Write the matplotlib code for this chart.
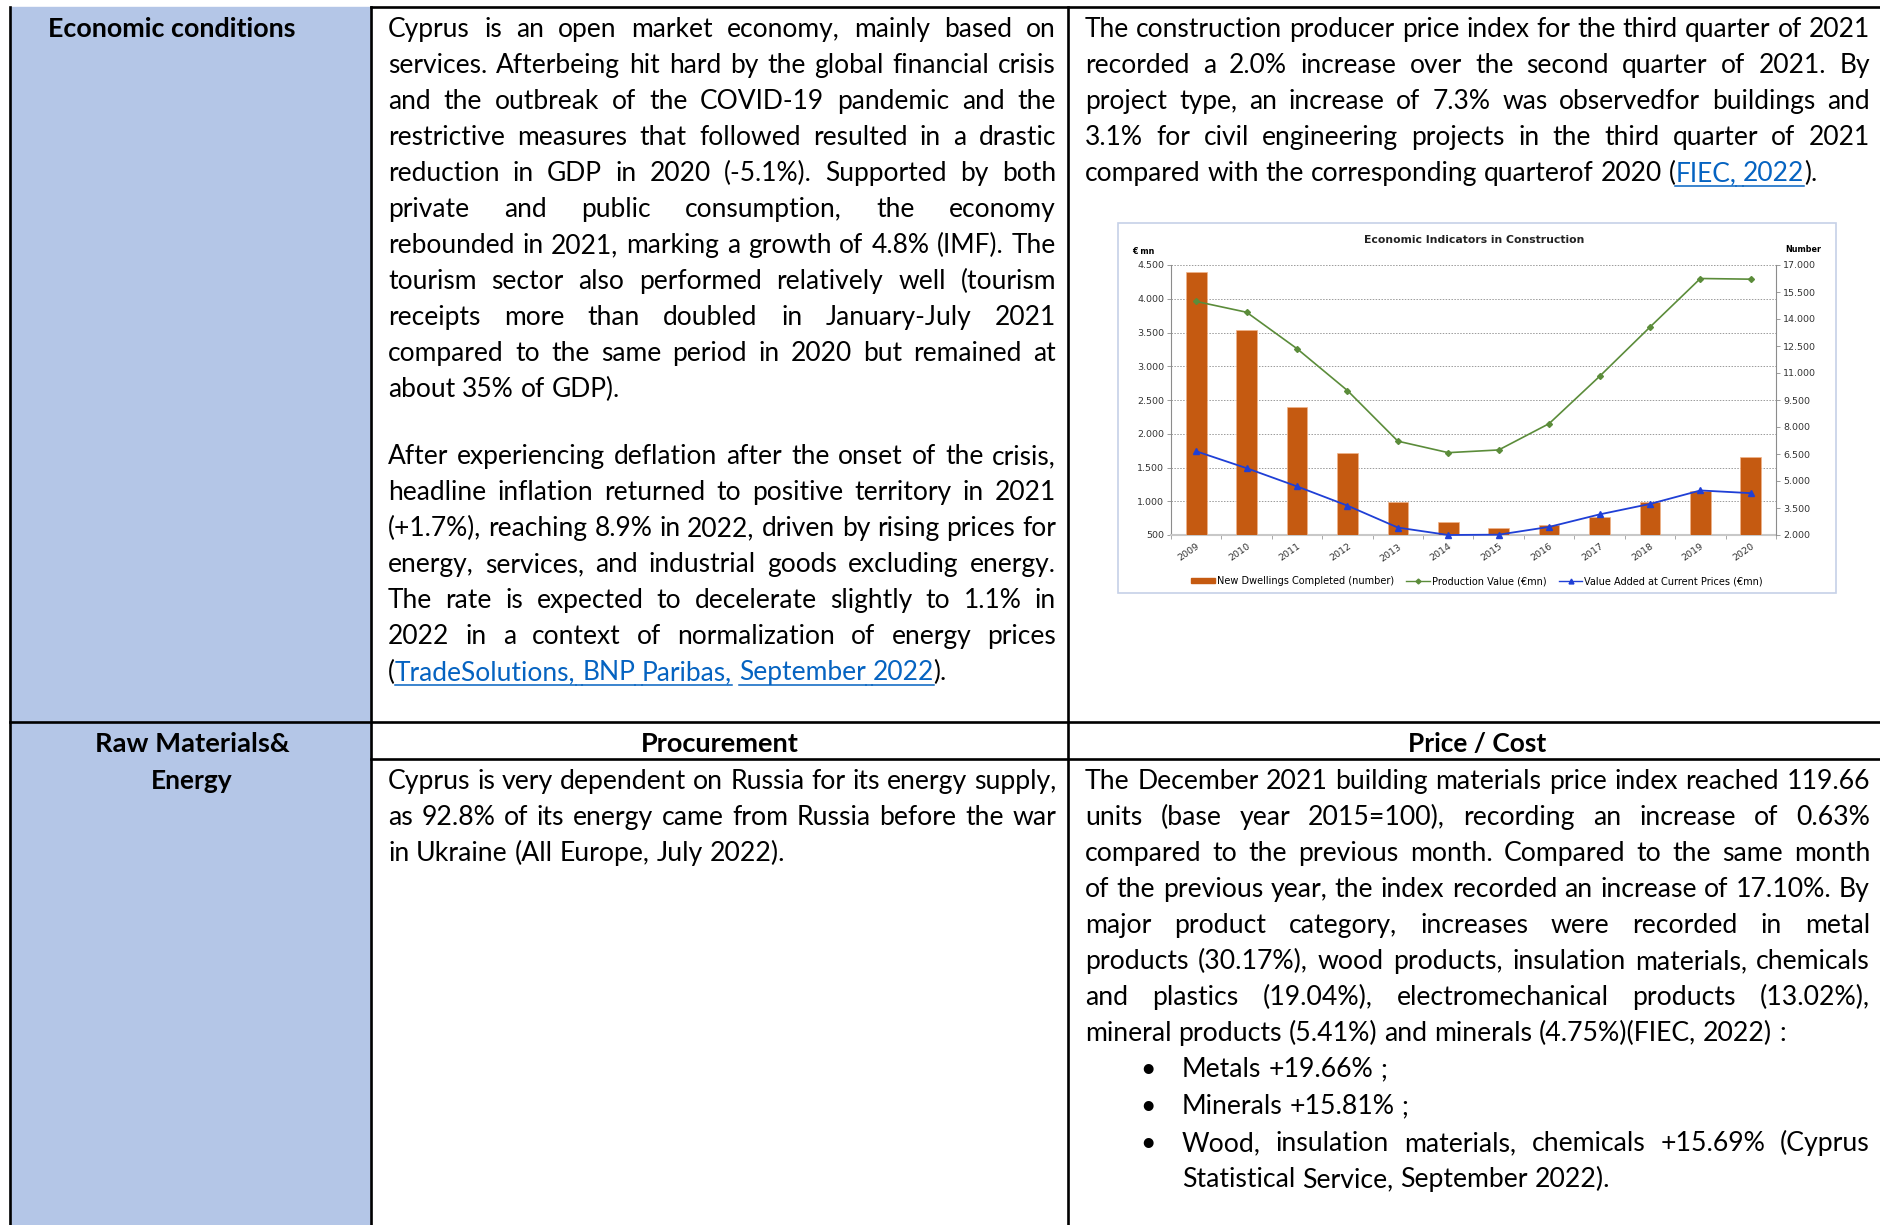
import numpy as np
import matplotlib.pyplot as plt
from matplotlib.patches import Rectangle, Patch
from matplotlib.lines import Line2D
from matplotlib.font_manager import FontProperties

W, H = 1881, 1225

# chart data
years = ['2009', '2010', '2011', '2012', '2013', '2014', '2015', '2016', '2017', '2018', '2019', '2020']
dwellings = [16600, 13400, 9100, 6550, 3850, 2700, 2370, 2560, 2980, 3850, 4440, 6330]
production = [3960, 3800, 3260, 2640, 1890, 1720, 1760, 2150, 2850, 3580, 4300, 4290]
value_added = [1740, 1490, 1220, 935, 610, 500, 505, 620, 805, 960, 1160, 1120]
left_ticks = [500, 1000, 1500, 2000, 2500, 3000, 3500, 4000, 4500]
right_ticks = [2000, 3500, 5000, 6500, 8000, 9500, 11000, 12500, 14000, 15500, 17000]
legend_labels = ['New Dwellings Completed (number)', 'Production Value (€mn)',
                 'Value Added at Current Prices (€mn)']

# table text, [ ] marks a link
econ_p1 = [
    "Cyprus is an open market economy, mainly based on",
    "services. Afterbeing hit hard by the global financial crisis",
    "and the outbreak of the COVID-19 pandemic and the",
    "restrictive measures that followed resulted in a drastic",
    "reduction in GDP in 2020 (-5.1%). Supported by both",
    "private and public consumption, the economy",
    "rebounded in 2021, marking a growth of 4.8% (IMF). The",
    "tourism sector also performed relatively well (tourism",
    "receipts more than doubled in January-July 2021",
    "compared to the same period in 2020 but remained at",
    "about 35% of GDP).",
]
econ_p2 = [
    "After experiencing deflation after the onset of the crisis,",
    "headline inflation returned to positive territory in 2021",
    "(+1.7%), reaching 8.9% in 2022, driven by rising prices for",
    "energy, services, and industrial goods excluding energy.",
    "The rate is expected to decelerate slightly to 1.1% in",
    "2022 in a context of normalization of energy prices",
    "([TradeSolutions, BNP Paribas,] [September 2022]).",
]
construction = [
    "The construction producer price index for the third quarter of 2021",
    "recorded a 2.0% increase over the second quarter of 2021. By",
    "project type, an increase of 7.3% was  observedfor buildings and",
    "3.1% for civil engineering projects in the third quarter of 2021",
    "compared with the corresponding quarterof 2020 ([FIEC, 2022]).",
]
procurement = [
    "Cyprus is very dependent on Russia for its energy supply,",
    "as 92.8% of its energy came from Russia before the war",
    "in Ukraine (All Europe, July 2022).",
]
price = [
    "The December 2021 building materials price index reached 119.66",
    "units (base year 2015=100), recording an increase of 0.63%",
    "compared to the previous month. Compared to the same month",
    "of the previous year, the index recorded an increase of 17.10%. By",
    "major product category, increases were recorded in metal",
    "products (30.17%), wood products, insulation materials, chemicals",
    "and plastics (19.04%), electromechanical products (13.02%),",
    "mineral products (5.41%) and minerals (4.75%)(FIEC, 2022) :",
]
bullets = [
    "Metals +19.66% ;",
    "Minerals +15.81% ;",
    "Wood, insulation materials, chemicals +15.69% (Cyprus",
    "Statistical Service, September 2022).",
]
bullet_marks = [True, True, True, False]

fig = plt.figure(figsize=(W / 100, H / 100), dpi=100)
ax = fig.add_axes([0, 0, 1, 1])
ax.set_xlim(0, W)
ax.set_ylim(H, 0)
ax.axis('off')
renderer = fig.canvas.get_renderer()

BLUE_CELL = '#B4C6E7'
LINK = '#0563C1'
NORMAL = ['Lato', 'DejaVu Sans']
NARROW = ['Liberation Sans Narrow', 'Lato', 'DejaVu Sans']

# table background and rules
ax.add_patch(Rectangle((10, 7), 361, H - 7, color=BLUE_CELL, zorder=0))
lw = 1.9
for xv in [10, 371, 1068]:
    ax.plot([xv, xv], [7, H], color='black', lw=lw, zorder=1)
ax.plot([371, W], [7, 7], color='black', lw=lw, zorder=1)
ax.plot([10, W], [722, 722], color='black', lw=lw, zorder=1)
ax.plot([371, W], [759, 759], color='black', lw=lw, zorder=1)


def measure(s, fp):
    t = ax.text(0, 0, s, fontproperties=fp)
    w = t.get_window_extent(renderer).width
    t.remove()
    return w


def fit_size(groups, family, base, weight='normal'):
    fp = FontProperties(family=family, size=base, weight=weight)
    scale = 1.0
    for lines, width in groups:
        for l in lines:
            w = measure(l.replace('[', '').replace(']', ''), fp)
            scale = min(scale, width / w)
    return base * scale


def split_runs(word, state):
    runs, cur = [], ''
    for ch in word:
        if ch in '[]':
            if cur:
                runs.append((cur, state))
                cur = ''
            state = ch == '['
        else:
            cur += ch
    if cur:
        runs.append((cur, state))
    return runs, state


def draw_line(text, x0, x1, y, fp, justify):
    items, ends, state = [], [], False
    for w in text.split():
        runs, state = split_runs(w, state)
        items.append([(s, lk, measure(s, fp)) for s, lk in runs])
        ends.append(state)
    total = sum(r[2] for it in items for r in it)
    if justify and len(items) > 1:
        gap = (x1 - x0 - total) / (len(items) - 1)
    else:
        gap = measure('a a', fp) - measure('aa', fp)
    x = x0
    for i, it in enumerate(items):
        if i > 0 and ends[i - 1] and it[0][1]:
            ax.plot([x - gap, x], [y + 5, y + 5], color=LINK, lw=1.1)
        for s, lk, w in it:
            ax.text(x, y, s, fontproperties=fp, color=LINK if lk else 'black', va='baseline', ha='left')
            if lk:
                ax.plot([x, x + w], [y + 5, y + 5], color=LINK, lw=1.1)
            x += w
        x += gap


def draw_para(lines, x0, x1, y0, step, fp, last_just=False):
    for i, l in enumerate(lines):
        just = (i < len(lines) - 1) or last_just
        draw_line(l, x0, x1, y0 + i * step, fp, just)


top_size = fit_size([(econ_p1 + econ_p2, 668), (construction, 785)], NORMAL, 19.5)
bot_size = fit_size([(procurement, 668), (price, 785), (bullets, 688)], NARROW, 20.5)
fp_top = FontProperties(family=NORMAL, size=top_size)
fp_bot = FontProperties(family=NARROW, size=bot_size)

draw_para(econ_p1, 388, 1056, 37, 36, fp_top)
draw_para(econ_p2, 388, 1056, 464, 36, fp_top)
draw_para(construction, 1085, 1870, 37, 36, fp_top)
draw_para(procurement, 388, 1056, 789, 36, fp_bot)
draw_para(price, 1085, 1870, 789, 36, fp_bot)
bullet_y = [1077, 1114, 1151, 1187]
for i, b in enumerate(bullets):
    if bullet_marks[i]:
        ax.text(1140, bullet_y[i], '•', fontproperties=fp_bot, va='baseline', ha='left')
    draw_line(b, 1182, 1870, bullet_y[i], fp_bot, i == 2)


def header(text, xc, y, width, family):
    s = fit_size([([text], width)], family, 22, weight='bold')
    s = min(s, 20.5)
    ax.text(xc, y, text, fontproperties=FontProperties(family=family, size=s, weight='bold'),
            ha='center', va='baseline')


header('Economic conditions', 172, 37, 248, NORMAL)
header('Raw Materials&', 192, 752, 194, NARROW)
header('Energy', 192, 789, 82, NARROW)
header('Procurement', 720, 752, 158, NARROW)
header('Price / Cost', 1477, 752, 138, NARROW)

# embedded chart
ax.add_patch(Rectangle((1118, 223), 718, 370, fill=False, edgecolor='#C6D1E8', lw=1.2, zorder=1))
ax.text(1474, 240, 'Economic Indicators in Construction', family='DejaVu Sans', fontsize=7.8,
        fontweight='bold', ha='center', va='center', color='#222222')
ax.text(1143, 252, '€ mn', family='DejaVu Sans', fontsize=5.8, fontweight='bold', ha='center', va='center')
ax.text(1803, 249, 'Number', family='DejaVu Sans', fontsize=5.8, fontweight='bold', ha='center', va='center')

fmt = lambda v: f'{v:,.0f}'.replace(',', '.')
tick_size = 6.8
x = np.arange(len(years))
ax1 = fig.add_axes([1171 / W, 1 - 535 / H, 605 / W, 270 / H])
ax1.set_xlim(-0.5, len(years) - 0.5)
ax1.set_ylim(500, 4500)
ax1.set_yticks(left_ticks, [fmt(v) for v in left_ticks])
for v in left_ticks[1:]:
    ax1.axhline(v, color='#9a9a9a', lw=0.7, ls=(0, (1.5, 1.5)), zorder=0)
ax1.set_xticks(x, years, rotation=35, ha='right', rotation_mode='anchor')
ax1.set_xticks(np.arange(-0.5, len(years), 1), minor=True)
ax1.tick_params(axis='x', which='major', length=0, pad=5, labelsize=tick_size, labelcolor='#333333')
ax1.tick_params(axis='x', which='minor', length=3, width=0.6, color='#9a9a9a')
ax1.tick_params(axis='y', length=3, width=0.6, color='#8c8c8c', labelsize=tick_size, labelcolor='#333333', pad=2)
for sp in ['top', 'right']:
    ax1.spines[sp].set_visible(False)
ax1.spines['left'].set_color('#8c8c8c')
ax1.spines['left'].set_linewidth(0.8)
ax1.spines['bottom'].set_color('#c8c8c8')
ax1.spines['bottom'].set_linewidth(1.5)
for lab in ax1.get_xticklabels() + ax1.get_yticklabels():
    lab.set_family('DejaVu Sans')

ax2 = ax1.twinx()
ax2.bar(x, dwellings, width=0.41, color='#C55A11', edgecolor='#F0B48A', linewidth=0.5, zorder=2)
ax2.set_ylim(2000, 17000)
ax2.set_yticks(right_ticks, [fmt(v) for v in right_ticks])
ax2.tick_params(axis='y', length=3, width=0.6, color='#8c8c8c', labelsize=tick_size, labelcolor='#333333', pad=2)
for lab in ax2.get_yticklabels():
    lab.set_family('DejaVu Sans')
for sp in ['top', 'left', 'bottom']:
    ax2.spines[sp].set_visible(False)
ax2.spines['right'].set_color('#8c8c8c')
ax2.spines['right'].set_linewidth(0.8)
ax2.patch.set_visible(False)

ax3 = ax1.twinx()
ax3.set_ylim(500, 4500)
ax3.plot(x, production, color='#5B8C3A', lw=1.2, marker='D', ms=3, clip_on=False)
ax3.plot(x, value_added, color='#1F3FD6', lw=1.3, marker='^', ms=4.5, clip_on=False)
ax3.set_yticks([])
for sp in ax3.spines.values():
    sp.set_visible(False)
ax3.patch.set_visible(False)

handles = [Patch(color='#C55A11'),
           Line2D([], [], color='#5B8C3A', lw=1.0, marker='D', ms=2.5),
           Line2D([], [], color='#1F3FD6', lw=1.0, marker='^', ms=3.5)]
leg = fig.legend(handles, legend_labels, loc='center', bbox_to_anchor=(1477 / W, 1 - 581 / H),
                 ncol=3, frameon=False, handlelength=2.4, handleheight=0.5,
                 handletextpad=0.2, columnspacing=1.3, prop={'family': 'DejaVu Sans', 'size': 7.0})

fig.savefig('out.png', dpi=100)
